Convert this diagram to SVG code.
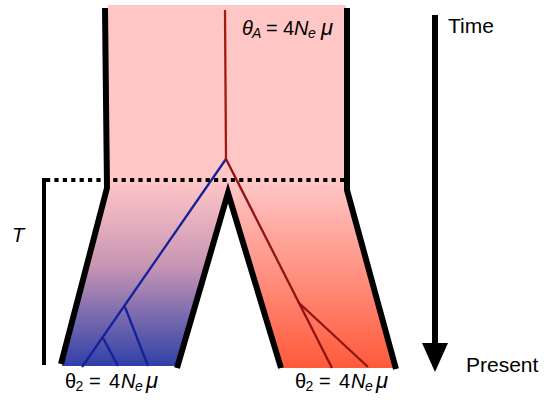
<svg xmlns="http://www.w3.org/2000/svg" width="548" height="404" viewBox="0 0 548 404">
<style>
text{font-family:"Liberation Sans",Arial,sans-serif;fill:#000}
.lbl{font-size:20px}
.sub{font-size:14px}
.mu{font-size:22px}
.it{font-style:italic}
.wall{fill:none;stroke:#000;stroke-width:6;stroke-linejoin:miter}
.blue{stroke:#14229a;stroke-width:2.3;fill:none}
.red{stroke:#8e1410;stroke-width:2.3;fill:none}
</style>
<defs>
<linearGradient id="gl" x1="0" y1="182" x2="0" y2="366" gradientUnits="userSpaceOnUse">
<stop offset="0" stop-color="#ffc6c6"/>
<stop offset="0.45" stop-color="#c896b4"/>
<stop offset="1" stop-color="#2f40a8"/>
</linearGradient>
<linearGradient id="gr" x1="0" y1="182" x2="0" y2="368" gradientUnits="userSpaceOnUse">
<stop offset="0" stop-color="#ffc6c6"/>
<stop offset="1" stop-color="#ff5a3a"/>
</linearGradient>
</defs>
<g id="ancestral-population">
<rect x="108" y="5" width="238" height="180" fill="#ffc6c6"/>
</g>
<g id="population-1">
<polygon points="108,182 228,182 228,194 176,366 62,366 108,190" fill="url(#gl)"/>
</g>
<g id="population-2">
<polygon points="228,182 346,182 346,190 395,368 282,368 228,194" fill="url(#gr)"/>
</g>
<g id="walls">
<polyline class="wall" points="105,8 106,100 107,188 61,364"/>
<polyline class="wall" points="347,8 347,190 396,369"/>
<polyline class="wall" points="177,368 228,193 281,368"/>
</g>
<g id="connectors">
<line x1="225" y1="10" x2="226" y2="159" stroke="#a01a10" stroke-width="2.3"/>
<polyline class="blue" points="226,159 82,367"/>
<line class="blue" x1="125" y1="307" x2="148" y2="366"/>
<line class="blue" x1="103" y1="338" x2="118" y2="366"/>
<polyline class="red" points="226,159 332,368"/>
<line class="red" x1="298" y1="302" x2="368" y2="367"/>
</g>
<g id="split-time">
<line x1="46" y1="180" x2="346" y2="180" stroke="#000" stroke-width="4" stroke-dasharray="4.2 4.2"/>
<line x1="44" y1="178" x2="44" y2="365" stroke="#000" stroke-width="4"/>
<text class="lbl it" x="12" y="242">T</text>
</g>
<g id="time-axis">
<line x1="435" y1="15" x2="435" y2="346" stroke="#000" stroke-width="6"/>
<polygon points="422,343 448,343 435,372" fill="#000"/>
<text x="448" y="33" font-size="21">Time</text>
<text x="466" y="372" font-size="21">Present</text>
</g>
<g id="labels">
<text class="lbl" y="35"><tspan class="it" x="242">θ</tspan><tspan class="it sub" x="252" dy="3">A</tspan><tspan x="266" dy="-3">=</tspan><tspan x="283">4</tspan><tspan class="it" x="294">N</tspan><tspan class="it sub" x="308" dy="3">e</tspan><tspan class="it mu" x="321" dy="-3">μ</tspan></text>
<text class="lbl" y="388"><tspan x="65">θ</tspan><tspan class="sub" x="75.5" dy="3">2</tspan><tspan x="89" dy="-3">=</tspan><tspan x="109">4</tspan><tspan class="it" x="121">N</tspan><tspan class="it sub" x="135" dy="3">e</tspan><tspan class="it mu" x="146" dy="-3">μ</tspan></text>
<text class="lbl" y="388"><tspan x="295">θ</tspan><tspan class="sub" x="305.5" dy="3">2</tspan><tspan x="319" dy="-3">=</tspan><tspan x="339">4</tspan><tspan class="it" x="351">N</tspan><tspan class="it sub" x="365" dy="3">e</tspan><tspan class="it mu" x="376" dy="-3">μ</tspan></text>
</g>
</svg>
